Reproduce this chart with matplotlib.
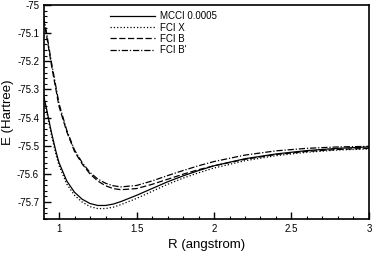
import numpy as np
import matplotlib.pyplot as plt
from matplotlib.ticker import MultipleLocator, FormatStrFormatter

plt.rcParams['font.family'] = ['Liberation Sans', 'DejaVu Sans']

# bond length grid (angstrom)
R = [0.9, 0.92, 0.95, 0.98, 1.0, 1.05, 1.1, 1.15, 1.2, 1.25, 1.3, 1.35,
     1.4, 1.5, 1.6, 1.7, 1.8, 1.9, 2.0, 2.2, 2.4, 2.6, 2.8, 3.0]

# energies (Hartree)
mcci = [-75.32, -75.37, -75.45, -75.52, -75.56, -75.625, -75.665, -75.69,
        -75.705, -75.712, -75.712, -75.707, -75.698, -75.676, -75.652,
        -75.628, -75.607, -75.588, -75.571, -75.546, -75.529, -75.517,
        -75.509, -75.504]
fci_x = [-75.33, -75.38, -75.46, -75.53, -75.57, -75.636, -75.676, -75.70,
         -75.716, -75.723, -75.723, -75.718, -75.709, -75.687, -75.662,
         -75.637, -75.615, -75.596, -75.579, -75.553, -75.535, -75.523,
         -75.515, -75.511]
fci_b = [-75.05, -75.11, -75.21, -75.30, -75.36, -75.45, -75.52, -75.565,
         -75.60, -75.625, -75.642, -75.652, -75.656, -75.652, -75.637,
         -75.619, -75.601, -75.585, -75.571, -75.548, -75.531, -75.520,
         -75.513, -75.509]
fci_b2 = [-75.04, -75.10, -75.20, -75.29, -75.35, -75.445, -75.515, -75.56,
          -75.595, -75.618, -75.633, -75.642, -75.646, -75.641, -75.625,
          -75.606, -75.588, -75.571, -75.556, -75.533, -75.518, -75.509,
          -75.504, -75.502]

fig = plt.figure(figsize=(3.74, 2.64), dpi=100)
ax = fig.add_axes([0.1176, 0.1705, 0.869, 0.8105])

ax.plot(R, mcci, '-', color='black', lw=0.9, label='MCCI 0.0005')
ax.plot(R, fci_x, ':', color='black', lw=0.9, label='FCI X')
ax.plot(R, fci_b, '--', color='black', lw=0.9, dashes=(5, 2), label='FCI B')
ax.plot(R, fci_b2, '-.', color='black', lw=0.9, dashes=(5, 1.5, 1, 1.5), label="FCI B'")

ax.set_xlim(0.903, 3.0)
ax.set_ylim(-75.76, -75.0)
ax.xaxis.set_major_locator(MultipleLocator(0.5))
ax.xaxis.set_minor_locator(MultipleLocator(0.1))
ax.yaxis.set_major_locator(MultipleLocator(0.1))
ax.yaxis.set_minor_locator(MultipleLocator(0.02))
ax.xaxis.set_major_formatter(FormatStrFormatter('%g'))
ax.yaxis.set_major_formatter(FormatStrFormatter('%g'))
ax.tick_params(which='both', direction='in', top=False, right=False, labelsize=7)
ax.tick_params(which='major', length=5, width=1)
ax.tick_params(which='minor', length=2.5, width=0.8)
for s in ax.spines.values():
    s.set_linewidth(1.2)

ax.set_xlabel('R (angstrom)', fontsize=9.5)
ax.set_ylabel('E (Hartree)', fontsize=9.5, labelpad=2)

ax.legend(loc='upper left', bbox_to_anchor=(0.203, 0.97), frameon=False,
          fontsize=7, handlelength=4.6, handletextpad=0.5, labelspacing=0.12,
          borderpad=0, borderaxespad=0)

fig.savefig('out.png', dpi=100)
